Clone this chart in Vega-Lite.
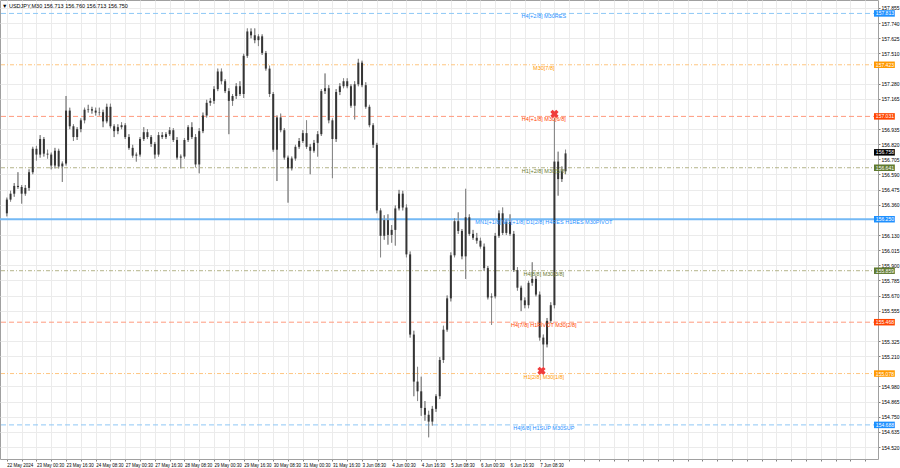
{
  "$schema": "https://vega.github.io/schema/vega-lite/v6.json",
  "width": 878,
  "height": 459,
  "autosize": {"type": "none"},
  "padding": {"left": 0, "top": 0, "right": 22, "bottom": 9},
  "background": "#ffffff",
  "title": {"text": "▼ USDJPY,M30  156.713 156.760 156.713 156.750", "anchor": "start", "offset": -9, "dx": 3, "fontSize": 5.5, "fontWeight": "normal", "font": "Liberation Sans", "color": "#000000"},
  "config": {"view": {"stroke": "#a0a0a0"}, "font": "Liberation Sans",
    "axis": {"labelOverlap": false, "labelFlush": false, "labelFontSize": 5, "labelColor": "#000000", "gridColor": "#ebebeb", "tickColor": "#808080", "domain": false, "title": null}},
  "datasets": {
    "candles": [
      {"t":2,"o":156.295,"h":156.414,"l":156.272,"c":156.399},
      {"t":6,"o":156.399,"h":156.466,"l":156.384,"c":156.444},
      {"t":10,"o":156.444,"h":156.525,"l":156.421,"c":156.503},
      {"t":14,"o":156.503,"h":156.607,"l":156.481,"c":156.495},
      {"t":18,"o":156.495,"h":156.510,"l":156.369,"c":156.444},
      {"t":22,"o":156.444,"h":156.510,"l":156.429,"c":156.488},
      {"t":26,"o":156.488,"h":156.629,"l":156.466,"c":156.607},
      {"t":30,"o":156.607,"h":156.800,"l":156.592,"c":156.785},
      {"t":34,"o":156.785,"h":156.807,"l":156.696,"c":156.741},
      {"t":38,"o":156.741,"h":156.889,"l":156.718,"c":156.859},
      {"t":42,"o":156.859,"h":156.874,"l":156.726,"c":156.748},
      {"t":46,"o":156.748,"h":156.778,"l":156.711,"c":156.741},
      {"t":50,"o":156.741,"h":156.756,"l":156.629,"c":156.658},
      {"t":54,"o":156.658,"h":156.792,"l":156.636,"c":156.770},
      {"t":58,"o":156.770,"h":156.785,"l":156.636,"c":156.651},
      {"t":62,"o":156.651,"h":156.688,"l":156.533,"c":156.673},
      {"t":66,"o":156.673,"h":157.186,"l":156.658,"c":157.075},
      {"t":70,"o":157.075,"h":157.097,"l":156.934,"c":156.956},
      {"t":74,"o":156.956,"h":156.971,"l":156.844,"c":156.874},
      {"t":78,"o":156.874,"h":156.949,"l":156.852,"c":156.934},
      {"t":82,"o":156.934,"h":157.016,"l":156.911,"c":157.001},
      {"t":86,"o":157.001,"h":157.097,"l":156.979,"c":157.082},
      {"t":90,"o":157.082,"h":157.119,"l":157.060,"c":157.086},
      {"t":94,"o":157.086,"h":157.104,"l":157.052,"c":157.075},
      {"t":98,"o":157.075,"h":157.097,"l":157.038,"c":157.060},
      {"t":102,"o":157.060,"h":157.097,"l":157.038,"c":157.063},
      {"t":106,"o":157.063,"h":157.082,"l":156.949,"c":156.993},
      {"t":110,"o":156.993,"h":157.127,"l":156.979,"c":157.104},
      {"t":114,"o":157.104,"h":157.127,"l":156.941,"c":156.956},
      {"t":118,"o":156.956,"h":156.971,"l":156.874,"c":156.919},
      {"t":122,"o":156.919,"h":156.971,"l":156.896,"c":156.949},
      {"t":126,"o":156.949,"h":156.986,"l":156.934,"c":156.964},
      {"t":130,"o":156.964,"h":156.979,"l":156.859,"c":156.874},
      {"t":134,"o":156.874,"h":156.896,"l":156.778,"c":156.792},
      {"t":138,"o":156.792,"h":156.815,"l":156.718,"c":156.733},
      {"t":142,"o":156.733,"h":156.756,"l":156.688,"c":156.741},
      {"t":146,"o":156.741,"h":156.874,"l":156.726,"c":156.859},
      {"t":150,"o":156.859,"h":156.949,"l":156.844,"c":156.911},
      {"t":154,"o":156.911,"h":156.934,"l":156.859,"c":156.874},
      {"t":158,"o":156.874,"h":156.889,"l":156.800,"c":156.822},
      {"t":162,"o":156.822,"h":156.837,"l":156.711,"c":156.741},
      {"t":166,"o":156.741,"h":156.911,"l":156.726,"c":156.889},
      {"t":170,"o":156.889,"h":156.911,"l":156.859,"c":156.874},
      {"t":174,"o":156.874,"h":156.911,"l":156.859,"c":156.896},
      {"t":178,"o":156.896,"h":156.949,"l":156.882,"c":156.926},
      {"t":182,"o":156.926,"h":156.941,"l":156.837,"c":156.852},
      {"t":186,"o":156.852,"h":156.874,"l":156.703,"c":156.718},
      {"t":190,"o":156.718,"h":156.741,"l":156.636,"c":156.726},
      {"t":194,"o":156.726,"h":156.867,"l":156.711,"c":156.852},
      {"t":198,"o":156.852,"h":156.964,"l":156.837,"c":156.949},
      {"t":202,"o":156.949,"h":156.986,"l":156.859,"c":156.874},
      {"t":206,"o":156.874,"h":156.896,"l":156.644,"c":156.666},
      {"t":210,"o":156.666,"h":156.941,"l":156.599,"c":156.919},
      {"t":214,"o":156.919,"h":157.060,"l":156.904,"c":157.038},
      {"t":218,"o":157.038,"h":157.157,"l":157.023,"c":157.134},
      {"t":222,"o":157.134,"h":157.171,"l":157.112,"c":157.149},
      {"t":226,"o":157.149,"h":157.260,"l":157.127,"c":157.238},
      {"t":230,"o":157.238,"h":157.394,"l":157.223,"c":157.372},
      {"t":234,"o":157.372,"h":157.394,"l":157.275,"c":157.298},
      {"t":238,"o":157.298,"h":157.313,"l":157.208,"c":157.223},
      {"t":242,"o":157.223,"h":157.245,"l":156.896,"c":157.149},
      {"t":246,"o":157.149,"h":157.201,"l":157.112,"c":157.186},
      {"t":250,"o":157.186,"h":157.283,"l":157.164,"c":157.260},
      {"t":254,"o":157.260,"h":157.298,"l":157.186,"c":157.201},
      {"t":258,"o":157.201,"h":157.506,"l":157.171,"c":157.491},
      {"t":262,"o":157.491,"h":157.699,"l":157.476,"c":157.676},
      {"t":266,"o":157.676,"h":157.699,"l":157.624,"c":157.647},
      {"t":270,"o":157.647,"h":157.699,"l":157.587,"c":157.610},
      {"t":274,"o":157.610,"h":157.654,"l":157.565,"c":157.639},
      {"t":278,"o":157.639,"h":157.654,"l":157.498,"c":157.513},
      {"t":282,"o":157.513,"h":157.528,"l":157.379,"c":157.394},
      {"t":286,"o":157.394,"h":157.416,"l":157.178,"c":157.201},
      {"t":290,"o":157.201,"h":157.216,"l":156.763,"c":156.778},
      {"t":294,"o":156.778,"h":157.038,"l":156.540,"c":157.023},
      {"t":298,"o":157.023,"h":157.052,"l":156.911,"c":156.926},
      {"t":302,"o":156.926,"h":156.941,"l":156.703,"c":156.718},
      {"t":306,"o":156.718,"h":156.733,"l":156.376,"c":156.636},
      {"t":310,"o":156.636,"h":156.726,"l":156.621,"c":156.711},
      {"t":314,"o":156.711,"h":156.815,"l":156.696,"c":156.800},
      {"t":318,"o":156.800,"h":156.867,"l":156.785,"c":156.844},
      {"t":322,"o":156.844,"h":156.926,"l":156.830,"c":156.904},
      {"t":326,"o":156.904,"h":157.001,"l":156.785,"c":156.800},
      {"t":330,"o":156.800,"h":156.822,"l":156.592,"c":156.770},
      {"t":334,"o":156.770,"h":156.852,"l":156.756,"c":156.830},
      {"t":338,"o":156.830,"h":156.919,"l":156.726,"c":156.896},
      {"t":342,"o":156.896,"h":157.238,"l":156.882,"c":157.223},
      {"t":346,"o":157.223,"h":157.357,"l":157.201,"c":157.245},
      {"t":350,"o":157.245,"h":157.268,"l":156.979,"c":157.001},
      {"t":354,"o":157.001,"h":157.016,"l":156.562,"c":156.859},
      {"t":358,"o":156.859,"h":157.238,"l":156.837,"c":157.216},
      {"t":362,"o":157.216,"h":157.283,"l":157.193,"c":157.260},
      {"t":366,"o":157.260,"h":157.320,"l":157.245,"c":157.298},
      {"t":370,"o":157.298,"h":157.320,"l":157.245,"c":157.260},
      {"t":374,"o":157.260,"h":157.275,"l":157.097,"c":157.112},
      {"t":378,"o":157.112,"h":157.298,"l":157.008,"c":157.275},
      {"t":382,"o":157.275,"h":157.468,"l":157.260,"c":157.439},
      {"t":386,"o":157.439,"h":157.454,"l":157.253,"c":157.268},
      {"t":390,"o":157.268,"h":157.290,"l":157.090,"c":157.104},
      {"t":394,"o":157.104,"h":157.119,"l":156.949,"c":156.964},
      {"t":398,"o":156.964,"h":156.979,"l":156.792,"c":156.815},
      {"t":402,"o":156.815,"h":156.830,"l":156.295,"c":156.317},
      {"t":406,"o":156.317,"h":156.332,"l":155.961,"c":156.124},
      {"t":410,"o":156.124,"h":156.280,"l":156.094,"c":156.243},
      {"t":414,"o":156.243,"h":156.287,"l":156.057,"c":156.131},
      {"t":418,"o":156.131,"h":156.206,"l":156.072,"c":156.169},
      {"t":422,"o":156.169,"h":156.354,"l":156.050,"c":156.332},
      {"t":426,"o":156.332,"h":156.473,"l":156.317,"c":156.444},
      {"t":430,"o":156.444,"h":156.466,"l":156.317,"c":156.339},
      {"t":434,"o":156.339,"h":156.362,"l":155.961,"c":155.983},
      {"t":438,"o":155.983,"h":156.005,"l":155.351,"c":155.374},
      {"t":442,"o":155.374,"h":155.403,"l":154.906,"c":155.017},
      {"t":446,"o":155.017,"h":155.129,"l":154.869,"c":154.943},
      {"t":450,"o":154.943,"h":155.054,"l":154.757,"c":154.817},
      {"t":454,"o":154.817,"h":154.869,"l":154.720,"c":154.765},
      {"t":458,"o":154.765,"h":154.795,"l":154.594,"c":154.713},
      {"t":462,"o":154.713,"h":154.832,"l":154.683,"c":154.810},
      {"t":466,"o":154.810,"h":154.921,"l":154.787,"c":154.906},
      {"t":470,"o":154.906,"h":155.203,"l":154.884,"c":155.181},
      {"t":474,"o":155.181,"h":155.441,"l":155.159,"c":155.411},
      {"t":478,"o":155.411,"h":155.671,"l":155.396,"c":155.649},
      {"t":482,"o":155.649,"h":155.998,"l":155.626,"c":155.976},
      {"t":486,"o":155.976,"h":156.257,"l":155.961,"c":156.235},
      {"t":490,"o":156.235,"h":156.302,"l":156.139,"c":156.161},
      {"t":494,"o":156.161,"h":156.176,"l":155.946,"c":155.968},
      {"t":498,"o":155.968,"h":156.481,"l":155.797,"c":156.265},
      {"t":502,"o":156.265,"h":156.287,"l":156.124,"c":156.139},
      {"t":506,"o":156.139,"h":156.169,"l":156.094,"c":156.109},
      {"t":510,"o":156.109,"h":156.146,"l":156.065,"c":156.087},
      {"t":514,"o":156.087,"h":156.109,"l":156.028,"c":156.042},
      {"t":518,"o":156.042,"h":156.065,"l":155.857,"c":155.879},
      {"t":522,"o":155.879,"h":155.894,"l":155.641,"c":155.656},
      {"t":526,"o":155.656,"h":155.686,"l":155.448,"c":155.664},
      {"t":530,"o":155.664,"h":156.146,"l":155.649,"c":156.124},
      {"t":534,"o":156.124,"h":156.317,"l":156.109,"c":156.295},
      {"t":538,"o":156.295,"h":156.339,"l":156.131,"c":156.146},
      {"t":542,"o":156.146,"h":156.250,"l":156.131,"c":156.228},
      {"t":546,"o":156.228,"h":156.287,"l":156.124,"c":156.139},
      {"t":550,"o":156.139,"h":156.161,"l":155.849,"c":155.864},
      {"t":554,"o":155.864,"h":155.886,"l":155.708,"c":155.730},
      {"t":558,"o":155.730,"h":155.745,"l":155.552,"c":155.634},
      {"t":562,"o":155.634,"h":155.656,"l":155.574,"c":155.597},
      {"t":566,"o":155.597,"h":155.782,"l":155.574,"c":155.767},
      {"t":570,"o":155.767,"h":155.923,"l":155.745,"c":155.797},
      {"t":574,"o":155.797,"h":155.819,"l":155.664,"c":155.678},
      {"t":578,"o":155.678,"h":155.700,"l":155.329,"c":155.351},
      {"t":582,"o":155.351,"h":155.374,"l":155.129,"c":155.299},
      {"t":586,"o":155.299,"h":155.500,"l":155.277,"c":155.478},
      {"t":590,"o":155.478,"h":155.619,"l":155.463,"c":155.597},
      {"t":594,"o":155.597,"h":157.016,"l":155.574,"c":156.688},
      {"t":598,"o":156.688,"h":156.763,"l":156.429,"c":156.555},
      {"t":602,"o":156.555,"h":156.651,"l":156.533,"c":156.614},
      {"t":606,"o":156.614,"h":156.778,"l":156.592,"c":156.750}
    ],
    "levels": [
      {"p":157.813,"lvl":"H4[+2/8] M30RES","kind":"blue"},
      {"p":157.423,"lvl":"M30[7/8]","kind":"orange"},
      {"p":157.031,"lvl":"H4[+1/8] M30[6/8]","kind":"red"},
      {"p":156.641,"lvl":"H1[+2/8] M30[5/8]","kind":"olive"},
      {"p":156.250,"lvl":"MN1[+1/8] W1[+1/8] D1[2/8] H4RES H1RES M30PIVOT","kind":"pivot"},
      {"p":155.859,"lvl":"H4[8/8] M30[3/8]","kind":"olive"},
      {"p":155.468,"lvl":"H4[7/8] H1PIVOT M30[2/8]","kind":"red"},
      {"p":155.078,"lvl":"H1[2/8] M30[1/8]","kind":"orange"},
      {"p":154.688,"lvl":"H4[6/8] H1SUP M30SUP","kind":"blue"}
    ],
    "tags": [
      {"p":157.813,"kind":"blue"},
      {"p":157.423,"kind":"orange"},
      {"p":157.031,"kind":"red"},
      {"p":156.758,"kind":"bid"},
      {"p":156.641,"kind":"olive"},
      {"p":156.250,"kind":"pivot"},
      {"p":155.859,"kind":"olive"},
      {"p":155.468,"kind":"red"},
      {"p":155.078,"kind":"orange"},
      {"p":154.688,"kind":"blue"}
    ],
    "marks": [
      {"t":594,"p":157.050},
      {"t":580,"p":155.099}
    ]
  },
  "layer": [
    {
      "data": {"name": "candles"},
      "mark": {"type": "rule", "color": "#8a8a8a", "strokeWidth": 1},
      "encoding": {
        "x": {"field": "t", "type": "quantitative",
          "scale": {"domain": [0, 938.4], "nice": false, "zero": false},
          "axis": {"title": null, "values": [2,18,34,50,66,82,98,114,130,146,162,178,194,210,226,242,258,274,290,306,322,338,354,370,386,402,418,434,450,466,482,498,514,530,546,562,578,594,610,626,642,658,674,690,706,722,738,754,770,786,802,818,834,850,866,882,898,914,930],
            "labelExpr": "((datum.value - 2) % 32 == 0 && datum.value <= 578) ? ['22 May 2024','23 May 00:30','23 May 16:30','24 May 08:30','27 May 00:30','27 May 16:30','28 May 08:30','29 May 00:30','29 May 16:30','30 May 08:30','31 May 00:30','31 May 16:30','3 Jun 08:30','4 Jun 00:30','4 Jun 16:30','5 Jun 08:30','6 Jun 00:30','6 Jun 16:30','7 Jun 08:30'][(datum.value - 2) / 32] : ''",
            "labelAlign": "left", "labelFontSize": 4.5, "labelPadding": 1, "labelOverlap": false, "labelFlush": false,
            "tickSize": 2, "grid": true, "gridWidth": 1}},
        "y": {"field": "l", "type": "quantitative",
          "scale": {"domain": [154.467, 157.877], "nice": false, "zero": false},
          "axis": {"orient": "right", "title": null,
            "values": [154.520,154.635,154.750,154.865,154.980,155.210,155.325,155.555,155.670,155.785,155.900,156.015,156.130,156.360,156.475,156.590,156.705,156.820,156.935,157.165,157.280,157.510,157.625,157.740,157.855],
            "format": ".3f", "labelFontSize": 5, "labelPadding": 1, "labelOverlap": false, "labelFlush": false,
            "tickSize": 2, "grid": true, "gridWidth": 1}},
        "y2": {"field": "h"}
      }
    },
    {
      "data": {"name": "levels"},
      "mark": {"type": "rule"},
      "encoding": {
        "y": {"field": "p", "type": "quantitative", "axis": null},
        "color": {"field": "kind", "type": "nominal", "legend": null,
          "scale": {"domain": ["blue","orange","red","olive","pivot"], "range": ["#8ec8f6","#ffc680","#ff9a7e","#b4b48a","#74b9f5"]}},
        "strokeDash": {"field": "kind", "type": "nominal", "legend": null,
          "scale": {"domain": ["blue","orange","red","olive","pivot"], "range": [[5,3],[4,2,1,2],[5,3],[4,2,1,2],[1,0]]}},
        "strokeWidth": {"condition": {"test": "datum.kind == 'pivot'", "value": 2}, "value": 1}
      }
    },
    {
      "data": {"name": "candles"},
      "mark": {"type": "rule", "color": "#8a8a8a", "strokeWidth": 1},
      "encoding": {
        "x": {"field": "t", "type": "quantitative", "axis": null},
        "y": {"field": "l", "type": "quantitative", "axis": null},
        "y2": {"field": "h"}
      }
    },
    {
      "data": {"name": "candles"},
      "mark": {"type": "bar", "width": 2, "color": "#353535"},
      "encoding": {
        "x": {"field": "t", "type": "quantitative", "axis": null},
        "y": {"field": "o", "type": "quantitative", "axis": null},
        "y2": {"field": "c"}
      }
    },
    {
      "data": {"name": "levels"},
      "mark": {"type": "text", "fontSize": 5.5, "align": "center", "baseline": "middle", "dy": 3},
      "encoding": {
        "x": {"datum": 582.5, "type": "quantitative", "axis": null},
        "y": {"field": "p", "type": "quantitative", "axis": null},
        "text": {"field": "lvl"},
        "color": {"field": "kind", "type": "nominal", "legend": null,
          "scale": {"domain": ["blue","orange","red","olive","pivot"], "range": ["#1e90ff","#ff9900","#ff4500","#6b7a2f","#1e90ff"]}}
      }
    },
    {
      "data": {"name": "marks"},
      "mark": {"type": "point", "shape": "cross", "angle": 45, "size": 70, "filled": true, "color": "#f03c3c", "opacity": 1},
      "encoding": {
        "x": {"field": "t", "type": "quantitative", "axis": null},
        "y": {"field": "p", "type": "quantitative", "axis": null}
      }
    },
    {
      "data": {"name": "tags"},
      "mark": {"type": "bar", "height": 6.5, "orient": "horizontal"},
      "encoding": {
        "x": {"datum": 939.5, "type": "quantitative", "axis": null},
        "x2": {"datum": 962},
        "y": {"field": "p", "type": "quantitative", "axis": null},
        "color": {"field": "kind", "type": "nominal", "legend": null,
          "scale": {"domain": ["blue","orange","red","olive","pivot","bid"], "range": ["#1e90ff","#ff9900","#ff4500","#5f7a2f","#1e90ff","#000000"]}}
      }
    },
    {
      "data": {"name": "tags"},
      "mark": {"type": "text", "fontSize": 5, "align": "left", "baseline": "middle", "color": "#ffffff"},
      "encoding": {
        "x": {"datum": 941.5, "type": "quantitative", "axis": null},
        "y": {"field": "p", "type": "quantitative", "axis": null},
        "text": {"field": "p", "type": "quantitative", "format": ".3f"}
      }
    }
  ],
  "resolve": {"scale": {"color": "independent"}, "axis": {"x": "independent", "y": "independent"}}
}
